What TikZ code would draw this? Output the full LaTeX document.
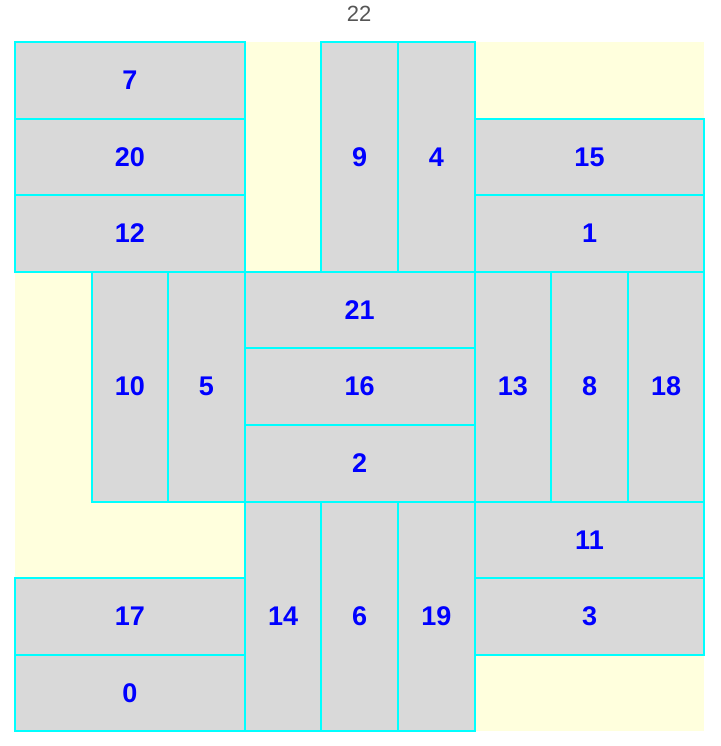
\documentclass[tikz,border=0pt]{standalone}
\usepackage{fontspec}
\setmainfont{Liberation Sans}
\usepackage{tikz}
\usetikzlibrary{positioning}
\definecolor{tilegray}{HTML}{D9D9D9}
\definecolor{tileedge}{HTML}{00FFFF}
\definecolor{bgyellow}{HTML}{FFFFDD}
\definecolor{titlegray}{HTML}{555555}
\pgfdeclarelayer{nodelayer}
\pgfdeclarelayer{edgelayer}
\pgfsetlayers{nodelayer,edgelayer,main}
\tikzstyle{tile}=[fill=tilegray, text=blue, font=\fontsize{27}{30}\selectfont\bfseries, inner sep=0pt, outer sep=0pt]
\tikzstyle{hbox}=[tile, minimum width=229.8pt, minimum height=76.6pt]
\tikzstyle{vbox}=[tile, minimum width=76.6pt, minimum height=229.8pt]
\tikzstyle{rim}=[draw=tileedge, line width=2pt]
\tikzstyle{none}=[inner sep=0pt]
\begin{document}
\begin{tikzpicture}[x=1pt, y=-1pt]
	\useasboundingbox (0,0) rectangle (720,746);
	\node [style=none, text=titlegray, font=\fontsize{22}{26}\selectfont] (title) at (359,14) {22};
	\begin{scope}[shift={(15pt,-42pt)}, x=76.6pt, y=-76.6pt]
	\begin{pgfonlayer}{nodelayer}
		\fill [bgyellow] (0,0) rectangle (9,9);
		% top row
		\node [style=hbox] (t7) at (1.5,0.5) {7};
		\node [style=hbox] (t20) at (1.5,1.5) {20};
		\node [style=hbox] (t12) at (1.5,2.5) {12};
		\node [style=vbox] (t9) at (4.5,1.5) {9};
		\node [style=vbox] (t4) at (5.5,1.5) {4};
		\node [style=hbox] (t15) at (7.5,1.5) {15};
		\node [style=hbox] (t1) at (7.5,2.5) {1};
		% middle row
		\node [style=vbox] (t10) at (1.5,4.5) {10};
		\node [style=vbox] (t5) at (2.5,4.5) {5};
		\node [style=hbox] (t21) at (4.5,3.5) {21};
		\node [style=hbox] (t16) at (4.5,4.5) {16};
		\node [style=hbox] (t2) at (4.5,5.5) {2};
		\node [style=vbox] (t13) at (6.5,4.5) {13};
		\node [style=vbox] (t8) at (7.5,4.5) {8};
		\node [style=vbox] (t18) at (8.5,4.5) {18};
		% bottom row
		\node [style=hbox] (t17) at (1.5,7.5) {17};
		\node [style=hbox] (t0) at (1.5,8.5) {0};
		\node [style=vbox] (t14) at (3.5,7.5) {14};
		\node [style=vbox] (t6) at (4.5,7.5) {6};
		\node [style=vbox] (t19) at (5.5,7.5) {19};
		\node [style=hbox] (t11) at (7.5,6.5) {11};
		\node [style=hbox] (t3) at (7.5,7.5) {3};
	\end{pgfonlayer}
	\begin{pgfonlayer}{edgelayer}
		\foreach \t in {t7,t20,t12,t9,t4,t15,t1,t10,t5,t21,t16,t2,t13,t8,t18,t17,t0,t14,t6,t19,t11,t3}
			\draw [style=rim] (\t.north west) rectangle (\t.south east);
	\end{pgfonlayer}
	\end{scope}
\end{tikzpicture}
\end{document}
